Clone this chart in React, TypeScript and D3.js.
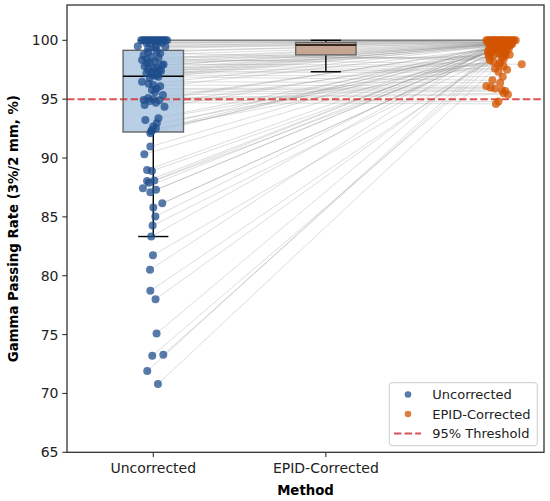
import React, { useEffect } from "react";
import * as d3 from "d3";

const categories = ["Uncorrected", "EPID-Corrected"];
const yTicks = [65, 70, 75, 80, 85, 90, 95, 100];
const threshold = 95;

const uncorrected = [
  100, 100, 100, 100, 100, 100, 100, 100, 100, 100, 100, 100, 100, 100, 100, 100,
  99.9, 99.8, 99.8, 99.7, 99.6, 99.5, 99.46, 99.4, 99.3,
  99.1, 99.0, 98.9, 98.75, 98.6, 98.5, 98.4, 98.33, 98.2, 98.1, 98.05, 97.95, 97.9, 97.8, 97.7,
  97.6, 97.5, 97.48, 97.4, 97.3, 97.25, 97.2, 97.1, 97.05, 97.0,
  96.9, 96.8, 96.49, 96.3, 96.2, 96.1, 95.9, 95.78, 95.6, 95.36, 95.1, 95.0, 94.93, 94.9, 94.85,
  94.7, 94.5, 94.36, 93.38, 93.23, 92.95, 92.67, 92.5, 92.38, 92.25,
  92.1, 90.97, 90.32, 88.99, 88.9, 88.1, 88.05, 87.9, 87.44, 87.3, 87.1, 86.16, 85.79, 85.03,
  84.27, 83.33, 81.75, 80.5, 78.72, 78.0, 75.1, 73.28, 73.2, 71.9, 70.8,
];

const corrected = [
  100, 100, 100, 100, 100, 100, 100, 100, 100, 100, 100, 100, 100, 100, 100, 100,
  100, 100, 99.95, 100, 99.9, 100, 99.9, 99.85, 99.85,
  99.8, 99.8, 98.3, 99.78, 98.5, 99.75, 97.96, 99.75, 99.72, 98.7, 99.7, 97.9, 99.7, 99.7, 97.8,
  99.68, 97.6, 99.67, 99.65, 97.5, 99.65, 97.33, 99.64, 96.9, 99.63,
  96.6, 99.62, 96.4, 99.5, 96.12, 99.4, 96.0, 95.9, 95.78, 95.7, 95.5, 95.4, 99.3, 94.8, 99.55,
  94.6, 98.6, 99.2, 98.4, 99.0, 98.2, 99.62, 98.1, 99.61, 98.9,
  99.6, 99.5, 99.45, 99.6, 99.4, 99.35, 99.6, 99.3, 99.25, 99.6, 99.2, 99.15, 99.6, 99.1, 99.05,
  99.6, 99.0, 99.61, 98.95, 99.6, 98.9, 98.85, 98.8, 98.8, 98.78,
];

const jitterUncorrected = [
  -0.07, -0.05, -0.03, -0.01, 0.01, 0.03, 0.05, 0.07, -0.06, -0.02, 0.02, 0.06, -0.04, 0.0, 0.04, 0.08,
  0.03, -0.04, 0.05, -0.02, 0.02, -0.09, 0.07, 0.01, -0.03,
  0.02, -0.03, 0.04, -0.056, -0.01, 0.03, -0.04, -0.065, 0.01, -0.02, -0.036, 0.06, 0.05, -0.05, 0.02,
  0.0, -0.03, 0.036, 0.045, -0.015, 0.01, -0.04, 0.025, -0.005, 0.015,
  0.03, -0.02, -0.065, -0.027, 0.0, 0.04, 0.02, -0.008, 0.01, 0.056, -0.03, 0.0, -0.056, 0.035, -0.02,
  0.015, -0.05, 0.065, 0.03, -0.046, 0.02, 0.0, 0.015, -0.008, -0.012,
  -0.017, -0.017, -0.052, -0.036, -0.008, 0.006, -0.036, -0.025, -0.06, 0.016, -0.017, 0.052, 0.0, 0.012,
  -0.004, -0.012, -0.002, -0.019, -0.017, 0.013, 0.019, 0.058, -0.006, -0.035, 0.027,
];

const jitterCorrected = [
  -0.06, -0.04, -0.02, 0.0, 0.02, 0.04, 0.06, 0.08, -0.05, -0.03, -0.01, 0.01, 0.03, 0.05, 0.07, 0.09,
  -0.07, 0.1, -0.045, 0.015, 0.055, -0.025, 0.035, 0.075, -0.005,
  0.05, -0.03, -0.05, 0.07, 0.02, -0.06, 0.135, 0.03, -0.01, 0.04, 0.06, 0.0, -0.04, 0.08, 0.03,
  0.01, -0.02, -0.05, 0.045, 0.05, 0.02, 0.0, -0.035, 0.025, 0.065,
  -0.035, 0.04, 0.01, -0.02, -0.07, 0.05, -0.045, -0.02, 0.02, 0.04, 0.03, 0.055, 0.0, 0.0, 0.06,
  -0.015, -0.055, 0.03, 0.03, -0.04, -0.03, -0.01, 0.01, 0.07, -0.06,
  0.02, -0.04, 0.05, -0.01, 0.03, -0.05, 0.0, 0.06, -0.03, 0.04, -0.02, 0.01, 0.07, -0.06, 0.025,
  -0.015, 0.045, -0.035, 0.015, 0.055, -0.045, 0.005, 0.035, -0.025, 0.065,
];

const W = 550;
const H = 501;
const M = { left: 67, right: 544, top: 5, bottom: 452.3 };
const FONT = "DejaVu Sans, sans-serif";
const BLUE = "#1f4e8c";
const ORANGE = "#d35400";

function boxStats(values: number[]) {
  const s = [...values].sort(d3.ascending);
  const q1 = d3.quantile(s, 0.25)!;
  const med = d3.quantile(s, 0.5)!;
  const q3 = d3.quantile(s, 0.75)!;
  const iqr = q3 - q1;
  const lo = d3.min(s.filter((v) => v >= q1 - 1.5 * iqr))!;
  const hi = d3.max(s.filter((v) => v <= q3 + 1.5 * iqr))!;
  return { q1, med, q3, lo, hi };
}

export default function App() {
  useEffect(() => {
    document.body.style.margin = "0";
  }, []);

  const x = d3.scaleLinear().domain([-0.5, 2.264]).range([M.left, M.right]);
  const y = d3.scaleLinear().domain([65, 103]).range([M.bottom, M.top]);
  const boxW = x(0.35) - x(0);
  const capW = x(0.175) - x(0);

  const boxes = [
    { pos: 0, stats: boxStats(uncorrected), fill: "#a6c3e0", op: 0.8 },
    { pos: 1, stats: boxStats(corrected), fill: "#c4a088", op: 0.9 },
  ];

  return (
    <svg width={W} height={H} style={{ display: "block" }} fontFamily={FONT}>
      <rect x={0} y={0} width={W} height={H} fill="#fff" />
      <g>
        {uncorrected.map((u, i) => (
          <line
            key={i}
            x1={x(jitterUncorrected[i])}
            y1={y(u)}
            x2={x(2 + jitterCorrected[i])}
            y2={y(corrected[i])}
            stroke="#808080"
            strokeOpacity={0.3}
            strokeWidth={0.9}
          />
        ))}
      </g>
      {boxes.map((b, i) => {
        const cx = x(b.pos);
        const s = b.stats;
        return (
          <g key={i}>
            <line x1={cx} x2={cx} y1={y(s.q3)} y2={y(s.hi)} stroke="#000" strokeWidth={1.4} />
            <line x1={cx} x2={cx} y1={y(s.q1)} y2={y(s.lo)} stroke="#000" strokeWidth={1.4} />
            <line x1={cx - capW / 2} x2={cx + capW / 2} y1={y(s.hi)} y2={y(s.hi)} stroke="#000" strokeWidth={1.4} />
            <line x1={cx - capW / 2} x2={cx + capW / 2} y1={y(s.lo)} y2={y(s.lo)} stroke="#000" strokeWidth={1.4} />
            <rect
              x={cx - boxW / 2}
              y={y(s.q3)}
              width={boxW}
              height={y(s.q1) - y(s.q3)}
              fill={b.fill}
              fillOpacity={b.op}
              stroke="#666"
              strokeWidth={1.4}
            />
            <line x1={cx - boxW / 2} x2={cx + boxW / 2} y1={y(s.med)} y2={y(s.med)} stroke="#000" strokeWidth={1.5} />
          </g>
        );
      })}
      <line
        x1={M.left}
        x2={M.right}
        y1={y(threshold)}
        y2={y(threshold)}
        stroke="#d62728"
        strokeOpacity={0.8}
        strokeWidth={2}
        strokeDasharray="7.4,3.2"
      />
      <g>
        {uncorrected.map((u, i) => (
          <circle key={"u" + i} cx={x(jitterUncorrected[i])} cy={y(u)} r={4} fill={BLUE} fillOpacity={0.75} />
        ))}
        {corrected.map((c, i) => (
          <circle key={"c" + i} cx={x(2 + jitterCorrected[i])} cy={y(c)} r={4} fill={ORANGE} fillOpacity={0.75} />
        ))}
      </g>
      <rect
        x={M.left}
        y={M.top}
        width={M.right - M.left}
        height={M.bottom - M.top}
        fill="none"
        stroke="#333"
        strokeWidth={1.3}
      />
      {yTicks.map((t) => (
        <g key={t}>
          <line x1={M.left - 4.7} x2={M.left} y1={y(t)} y2={y(t)} stroke="#333" strokeWidth={1.1} />
          <text x={M.left - 8.5} y={y(t)} textAnchor="end" dominantBaseline="central" fontSize={14} fill="#222">
            {t}
          </text>
        </g>
      ))}
      {categories.map((c, i) => (
        <g key={c}>
          <line x1={x(i)} x2={x(i)} y1={M.bottom} y2={M.bottom + 4.7} stroke="#333" strokeWidth={1.1} />
          <text x={x(i)} y={472.5} textAnchor="middle" fontSize={14} fill="#222">
            {c}
          </text>
        </g>
      ))}
      <text x={(M.left + M.right) / 2} y={494.5} textAnchor="middle" fontSize={13.3} fontWeight="bold" fill="#000">
        Method
      </text>
      <text
        transform={`translate(17.5, ${(M.top + M.bottom) / 2}) rotate(-90)`}
        textAnchor="middle"
        fontSize={13.3}
        fontWeight="bold"
        fill="#000"
      >
        Gamma Passing Rate (3%/2 mm, %)
      </text>
      <g>
        <rect x={389.3} y={382.7} width={148} height={63} rx={3} fill="#fff" fillOpacity={0.8} stroke="#ccc" strokeWidth={1} />
        <circle cx={408} cy={394.5} r={3.3} fill={BLUE} fillOpacity={0.75} />
        <text x={432.3} y={394.5} dominantBaseline="central" fontSize={13} fill="#222">
          Uncorrected
        </text>
        <circle cx={408} cy={414} r={3.3} fill={ORANGE} fillOpacity={0.75} />
        <text x={432.3} y={414} dominantBaseline="central" fontSize={13} fill="#222">
          EPID-Corrected
        </text>
        <line x1={394} x2={421} y1={433.5} y2={433.5} stroke="#d62728" strokeOpacity={0.8} strokeWidth={2} strokeDasharray="7.4,3.2" />
        <text x={432.3} y={433.5} dominantBaseline="central" fontSize={13} fill="#222">
          95% Threshold
        </text>
      </g>
    </svg>
  );
}
